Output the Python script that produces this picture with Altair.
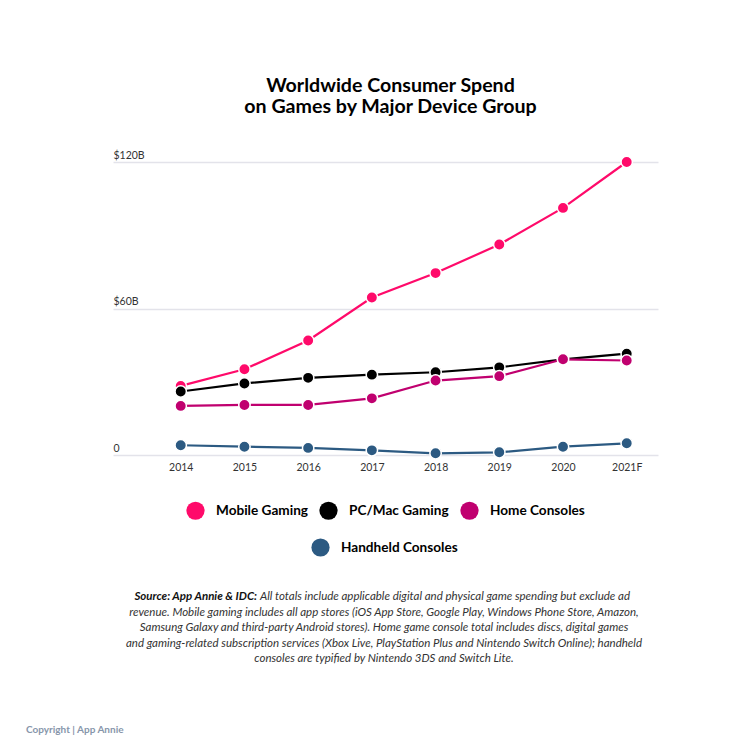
import altair as alt
import pandas as pd

years = ["2014", "2015", "2016", "2017", "2018", "2019", "2020", "2021F"]
mobile = [28.3, 35.1, 46.9, 64.5, 74.5, 86.2, 101.2, 120.0]
pc = [26.0, 29.3, 31.6, 32.9, 33.9, 35.9, 39.2, 41.5]
home = [20.1, 20.5, 20.5, 23.2, 30.5, 32.3, 39.2, 38.7]
handheld = [4.0, 3.4, 2.9, 1.9, 0.7, 1.1, 3.4, 4.8]

main_series = ["Mobile Gaming", "PC/Mac Gaming", "Home Consoles"]
main_colors = ["#FF0A6A", "#000000", "#C0006F"]
hand_series = ["Handheld Consoles"]
hand_colors = ["#2C5A82"]

y_ticks = [0, 60, 120]

title_lines = ["Worldwide Consumer Spend", "on Games by Major Device Group"]
note_bold = "Source: App Annie & IDC:"
note_first = "All totals include applicable digital and physical game spending but exclude ad"
note_rest = [
    "revenue. Mobile gaming includes all app stores (iOS App Store, Google Play, Windows Phone Store, Amazon,",
    "Samsung Galaxy and third-party Android stores). Home game console total includes discs, digital games",
    "and gaming-related subscription services (Xbox Live, PlayStation Plus and Nintendo Switch Online); handheld",
    "consoles are typified by Nintendo 3DS and Switch Lite.",
]
copyright_text = "Copyright | App Annie"

FONT = "Lato"
W, H = 545, 293

values = {
    "Mobile Gaming": mobile,
    "PC/Mac Gaming": pc,
    "Home Consoles": home,
    "Handheld Consoles": handheld,
}

x_enc = alt.X(
    "year:N",
    sort=years,
    scale=alt.Scale(type="point", padding=0.777, align=0.684),
    axis=alt.Axis(
        title=None, domain=False, ticks=False, grid=False, labelPadding=7,
        labelFont=FONT, labelFontSize=10.5, labelColor="#333333", labelAngle=0,
    ),
)
y_enc = alt.Y(
    "value:Q",
    scale=alt.Scale(domain=[0, 120]),
    axis=alt.Axis(
        title=None, domain=False, ticks=False, grid=True, values=y_ticks,
        gridColor="#E3E3EA", gridWidth=1.5,
        labelExpr="datum.value == 0 ? '0' : '$' + datum.value + 'B'",
        labelAlign="left", labelBaseline="alphabetic", labelPadding=0, labelOffset=-4,
        labelFont=FONT, labelFontSize=10.5, labelColor="#333333",
    ),
)


def legend(x, y):
    return alt.Legend(
        title=None, orient="none", legendX=x, legendY=y, direction="horizontal",
        symbolType="circle", symbolSize=330, symbolStrokeWidth=0,
        labelFont=FONT, labelFontSize=13.6, labelFontWeight="bold", labelColor="#000000",
        labelOffset=11, columnPadding=11, padding=0,
    )


def series_layers(names, domain, colors, leg):
    layers = []
    for name in names:
        df = pd.DataFrame({"year": years, "value": values[name], "series": name})
        color = alt.Color("series:N", scale=alt.Scale(domain=domain, range=colors), legend=leg)
        base = alt.Chart(df).encode(x=x_enc, y=y_enc, color=color)
        layers.append(base.mark_line(strokeWidth=2.2))
        layers.append(base.mark_point(filled=True, size=130, stroke="white", strokeWidth=1.5, opacity=1))
    return layers


main = alt.layer(*series_layers(main_series, main_series, main_colors, legend(73, 339)))
hand = alt.layer(*series_layers(hand_series, hand_series, hand_colors, legend(198, 376)))

note_df = pd.DataFrame({"t": [0]})
bold_txt = alt.Chart(note_df).mark_text(
    text=note_bold, font=FONT, fontSize=11.5, fontStyle="italic", fontWeight="bold",
    align="right", baseline="middle", color="#111111",
).encode(x=alt.value(144), y=alt.value(434.5))
first_txt = alt.Chart(note_df).mark_text(
    text=note_first, font=FONT, fontSize=11.5, fontStyle="italic",
    align="left", baseline="middle", color="#333333",
).encode(x=alt.value(147), y=alt.value(434.5))
rest_txt = alt.Chart(note_df).mark_text(
    text=note_rest, font=FONT, fontSize=11.5, fontStyle="italic", lineHeight=15.4,
    align="center", baseline="top", color="#333333",
).encode(x=alt.value(271), y=alt.value(445))
copy_txt = alt.Chart(note_df).mark_text(
    text=copyright_text, font=FONT, fontSize=10, fontWeight="bold",
    align="left", baseline="middle", color="#8796AB",
).encode(x=alt.value(-87), y=alt.value(568))

chart = alt.layer(
    alt.layer(main, hand).resolve_scale(color="independent"),
    bold_txt, first_txt, rest_txt, copy_txt,
).properties(
    width=W, height=H,
    title=alt.TitleParams(
        text=title_lines, font=FONT, fontSize=19.6, fontWeight="bold", color="#000000",
        anchor="middle", baseline="alphabetic", lineHeight=21, offset=17, dx=5,
    ),
    autosize=alt.AutoSizeParams(type="none"),
    padding={"left": 105, "top": 154, "right": 84, "bottom": 286},
).configure(background="white").configure_view(stroke=None)

chart.save("out.html", embed_options={"renderer": "svg", "actions": False})
